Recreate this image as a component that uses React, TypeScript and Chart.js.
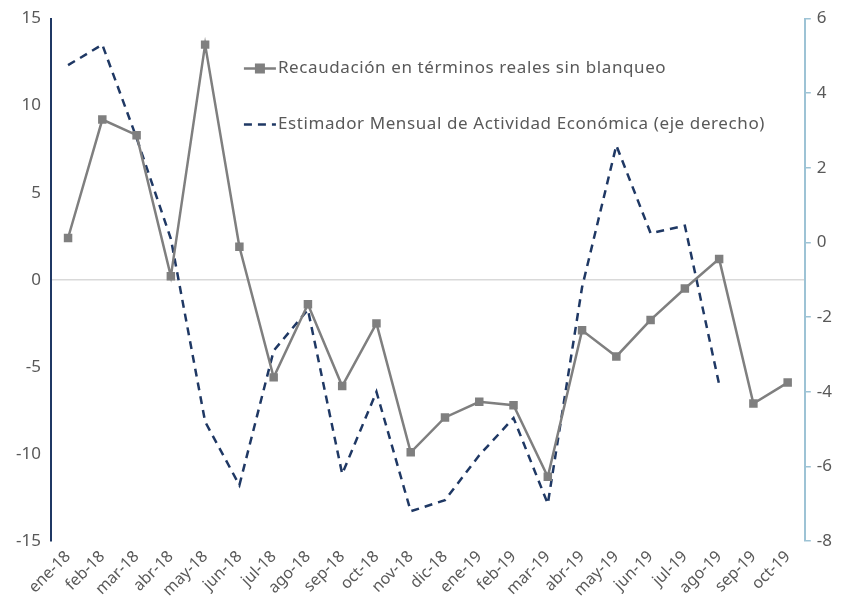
import React, { useEffect, useRef } from "react";
import { Chart, registerables } from "chart.js";

Chart.register(...registerables);

const categories = [
  "ene-18", "feb-18", "mar-18", "abr-18", "may-18", "jun-18", "jul-18", "ago-18",
  "sep-18", "oct-18", "nov-18", "dic-18", "ene-19", "feb-19", "mar-19", "abr-19",
  "may-19", "jun-19", "jul-19", "ago-19", "sep-19", "oct-19",
];

const recaudacion = [
  2.4, 9.2, 8.3, 0.2, 13.5, 1.9, -5.6, -1.4, -6.1, -2.5, -9.9, -7.9,
  -7.0, -7.2, -11.3, -2.9, -4.4, -2.3, -0.5, 1.2, -7.1, -5.9,
];

const emae = [
  4.75, 5.3, 2.8, 0.1, -4.8, -6.5, -2.9, -1.8, -6.2, -4.0, -7.2, -6.9,
  -5.7, -4.7, -7.0, -1.2, 2.6, 0.25, 0.45, -3.8, null, null,
];

const labelRecaudacion = "Recaudación en términos reales sin blanqueo";
const labelEmae = "Estimador Mensual de Actividad Económica (eje derecho)";

const GRAY = "#7f7f7f";
const NAVY = "#1f3864";
const LIGHTBLUE = "#9dc3d5";
const TEXT = "#595959";
const FONT = "'Noto Sans', sans-serif";

const legendPlugin = {
  id: "customLegend",
  afterDraw(chart: any) {
    const ctx = chart.ctx;
    const { left, top } = chart.chartArea;
    ctx.save();
    const lx = left + 193;
    const y1 = top + 50;
    const y2 = top + 106;
    ctx.strokeStyle = GRAY;
    ctx.lineWidth = 2.5;
    ctx.setLineDash([]);
    ctx.beginPath();
    ctx.moveTo(lx, y1);
    ctx.lineTo(lx + 32, y1);
    ctx.stroke();
    ctx.fillStyle = GRAY;
    ctx.fillRect(lx + 16 - 5, y1 - 5, 10, 10);
    ctx.strokeStyle = NAVY;
    ctx.setLineDash([8, 6]);
    ctx.beginPath();
    ctx.moveTo(lx, y2);
    ctx.lineTo(lx + 32, y2);
    ctx.stroke();
    ctx.setLineDash([]);
    ctx.fillStyle = TEXT;
    ctx.font = `17px ${FONT}`;
    try {
      (ctx as any).letterSpacing = "0.6px";
    } catch (e) {}
    ctx.textBaseline = "middle";
    ctx.textAlign = "left";
    ctx.fillText(labelRecaudacion, lx + 34, y1);
    ctx.fillText(labelEmae, lx + 34, y2);
    ctx.restore();
  },
};

export default function App() {
  const canvasRef = useRef<HTMLCanvasElement | null>(null);

  useEffect(() => {
    document.body.style.margin = "0";
    const canvas = canvasRef.current;
    if (!canvas) return;
    const chart = new Chart(canvas, {
      type: "line",
      data: {
        labels: categories,
        datasets: [
          {
            label: labelRecaudacion,
            data: recaudacion,
            yAxisID: "y",
            borderColor: GRAY,
            backgroundColor: GRAY,
            borderWidth: 2.5,
            pointStyle: "rect",
            pointRadius: 6,
            pointHoverRadius: 6,
            pointBorderWidth: 0,
            tension: 0,
          },
          {
            label: labelEmae,
            data: emae,
            yAxisID: "y1",
            borderColor: NAVY,
            backgroundColor: NAVY,
            borderWidth: 2.5,
            borderDash: [8, 6],
            pointRadius: 0,
            tension: 0,
            spanGaps: false,
          },
        ],
      },
      options: {
        responsive: false,
        animation: false,
        layout: { padding: { top: -2, left: 6, right: 5, bottom: 2 } },
        plugins: {
          legend: { display: false },
          tooltip: { enabled: false },
        },
        scales: {
          x: {
            offset: true,
            grid: { display: false, drawTicks: false },
            border: { display: false },
            ticks: {
              color: TEXT,
              font: { family: FONT, size: 16 },
              maxRotation: 45,
              minRotation: 45,
              autoSkip: false,
              padding: 6,
            },
          },
          y: {
            position: "left",
            min: -15,
            max: 15,
            ticks: {
              stepSize: 5,
              color: TEXT,
              font: { family: FONT, size: 17, lineHeight: 1 },
              padding: 10,
            },
            grid: {
              drawTicks: false,
              color: (c: any) => (c.tick && c.tick.value === 0 ? "#d9d9d9" : "rgba(0,0,0,0)"),
              lineWidth: 1.5,
            },
            border: { color: NAVY, width: 2 },
          },
          y1: {
            position: "right",
            min: -8,
            max: 6,
            ticks: {
              stepSize: 2,
              color: TEXT,
              font: { family: FONT, size: 17, lineHeight: 1 },
              padding: 6,
            },
            grid: {
              drawOnChartArea: false,
              drawTicks: true,
              tickLength: 6,
              color: LIGHTBLUE,
              lineWidth: 1.5,
            },
            border: { color: LIGHTBLUE, width: 2 },
          },
        },
      },
      plugins: [legendPlugin],
    });
    return () => chart.destroy();
  }, []);

  return (
    <div style={{ width: 843, height: 608 }}>
      <canvas ref={canvasRef} width={843} height={608} style={{ display: "block" }} />
    </div>
  );
}
